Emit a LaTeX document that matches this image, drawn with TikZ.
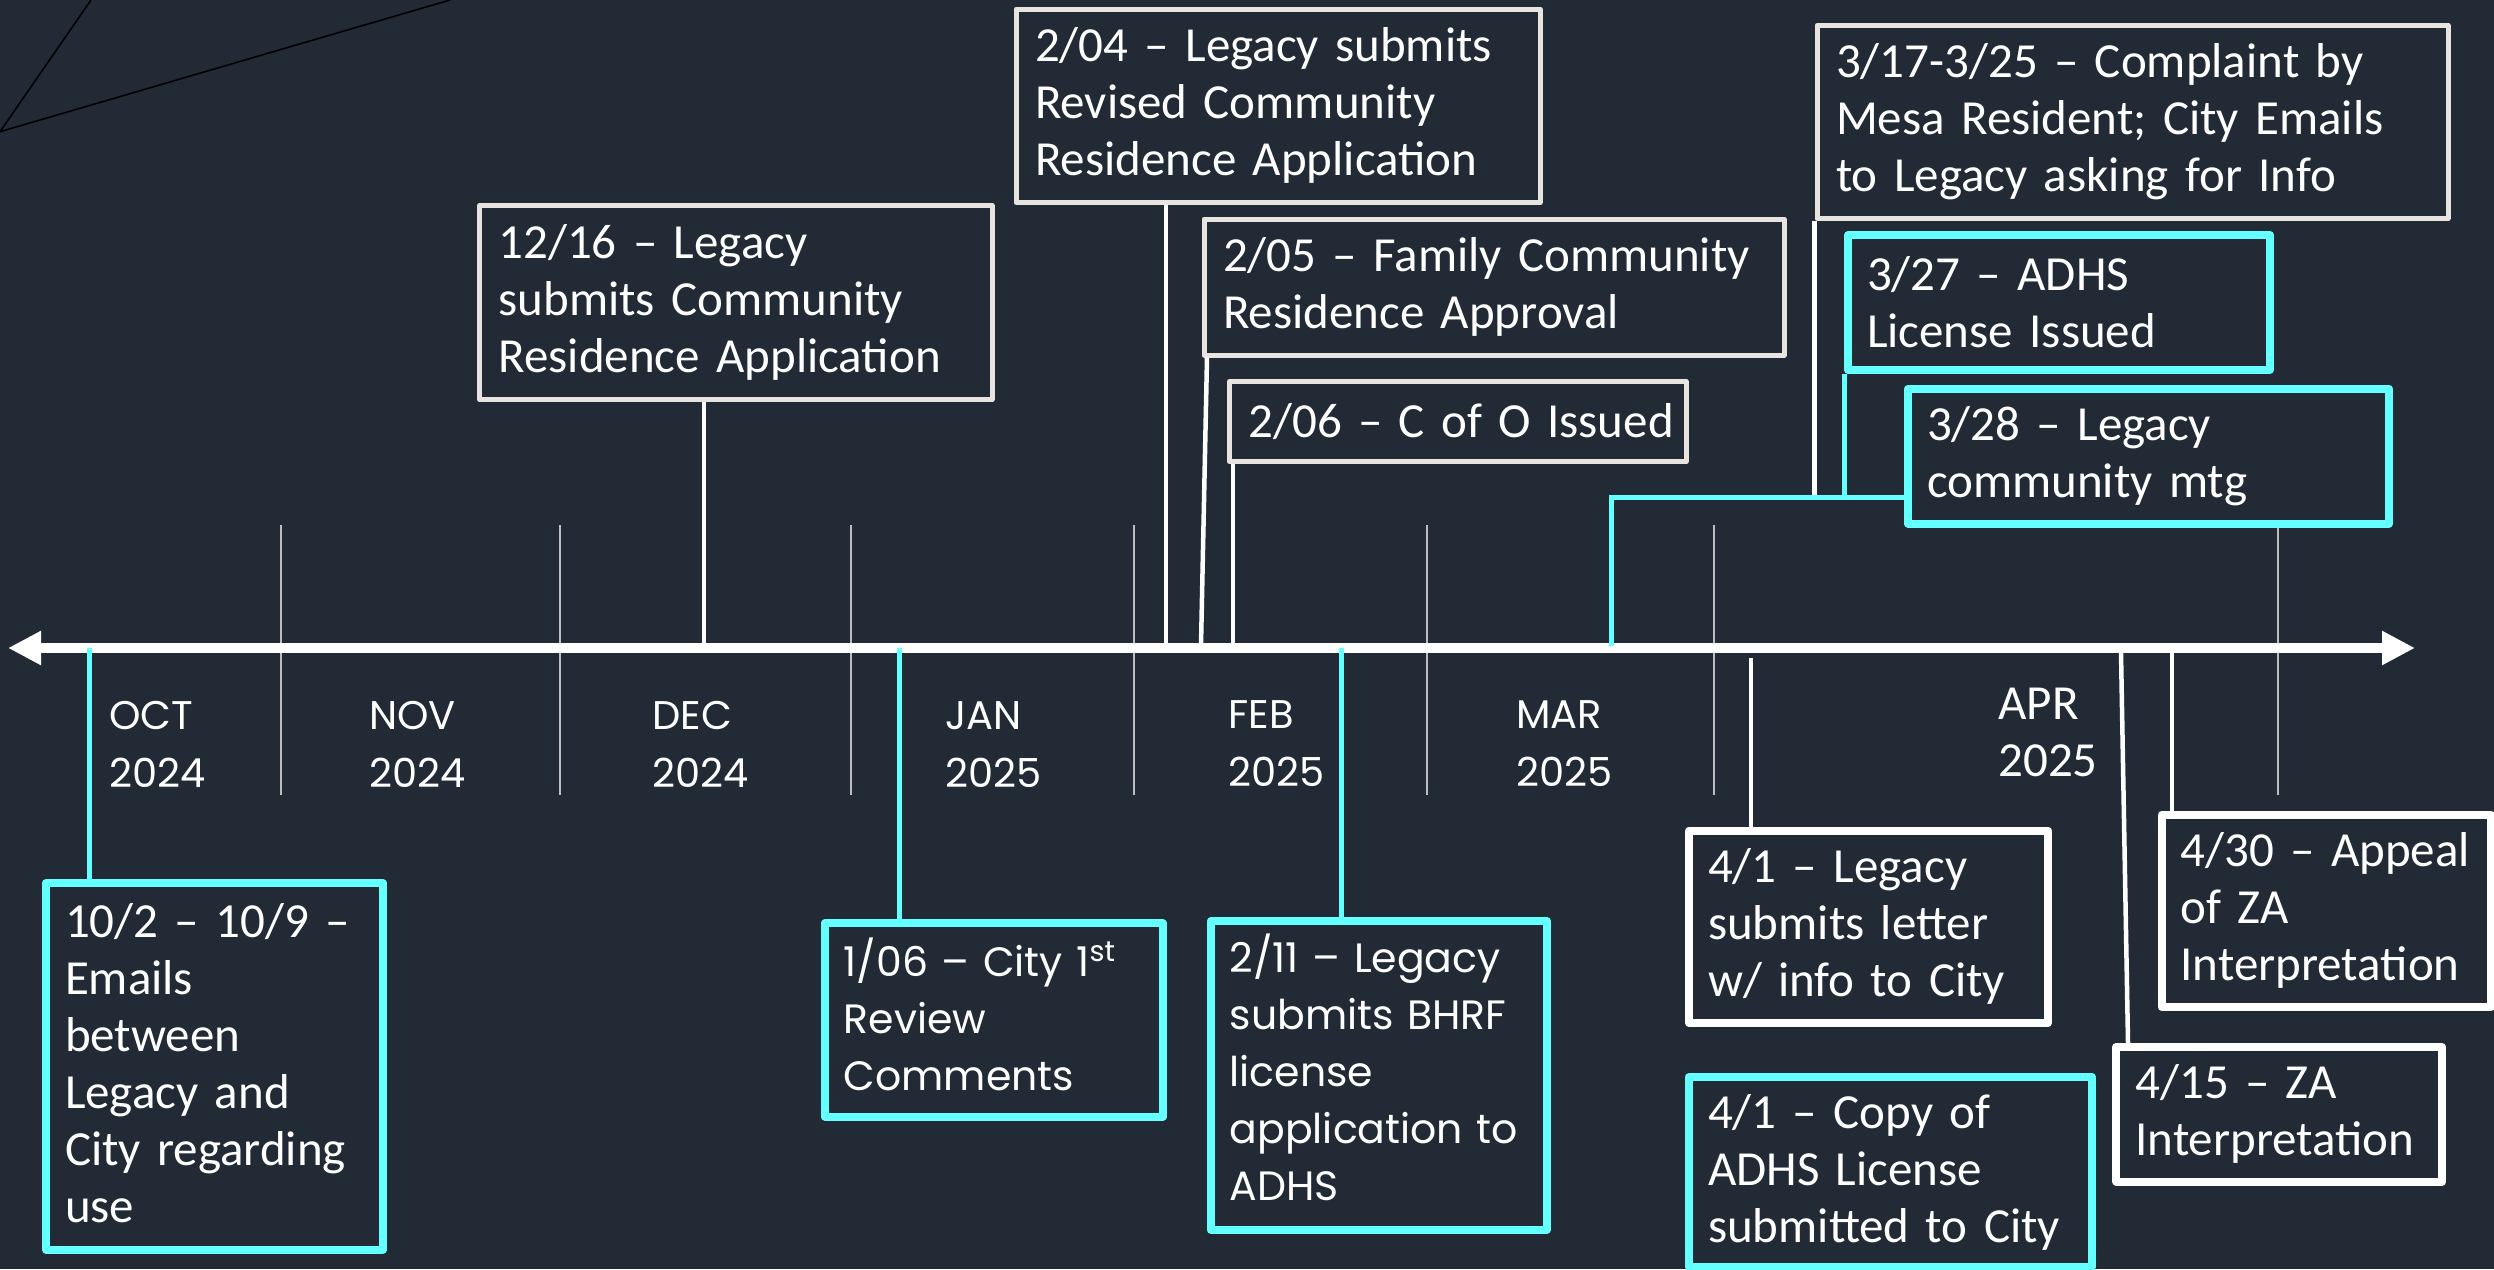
\documentclass[tikz,border=0pt]{standalone}
\usepackage{fontspec}
\setmainfont{Carlito}
\newfontfamily\popfont{Poppins}
\usetikzlibrary{arrows.meta,calc}
\definecolor{bg}{RGB}{34,42,53}
\definecolor{cyanc}{RGB}{100,255,255}
\definecolor{offwhite}{RGB}{232,229,224}
\definecolor{tickgray}{RGB}{190,190,190}
\tikzset{
  boxbase/.style={rectangle, anchor=north west, inner xsep=9.5pt, inner ysep=0pt,
    align=left, text=white, line join=round,
    font=\fontsize{24.5}{28.5}\selectfont,
    execute at begin node={\hyphenpenalty=10000 \exhyphenpenalty=10000}},
  popbox/.style={font=\popfont\fontsize{20.5}{28.5}\selectfont},
  wbox/.style={boxbase, draw=offwhite, line width=2.5pt},
  wbbox/.style={boxbase, draw=white, line width=4pt},
  cbox/.style={boxbase, draw=cyanc, line width=4pt},
  wline/.style={draw=white, line width=2.25pt},
  cline/.style={draw=cyanc, line width=2.5pt},
  monthtick/.style={draw=tickgray, line width=0.75pt},
  monthlbl/.style={anchor=north west, inner sep=0pt, align=left, text=white,
    font=\popfont\fontsize{20}{29}\selectfont},
  aprlbl/.style={anchor=north west, inner sep=0pt, align=left, text=white,
    font=\fontsize{24.5}{28.5}\selectfont},
}
\begin{document}
\begin{tikzpicture}[x=0.5pt,y=-0.5pt]
\useasboundingbox (0,0) rectangle (2494,1269);
\fill[bg] (0,0) rectangle (2494,1269);
% decorative black lines, top left
\draw[black, line width=0.75pt] (91,0) -- (0,131.7) -- (450,0);

% month ticks
\foreach \x in {281,560,851,1134,1427,1714,2278}
  \draw[monthtick] (\x,525) -- (\x,795);

% axis
\coordinate (axL) at (8,648);
\coordinate (axR) at (2415,648);
\draw[white, line width=5pt, -{Triangle[length=16.5pt,width=16pt]}] ($(axL)!0.5!(axR)$) -- (axR);
\draw[white, line width=5pt, -{Triangle[length=16.5pt,width=16pt]}] ($(axL)!0.5!(axR)$) -- (axL);

% month labels
\node[monthlbl] (mOct) at (109,701) {OCT\\2024};
\node[monthlbl] (mNov) at (369,701) {NOV\\2024};
\node[monthlbl] (mDec) at (652,701) {DEC\\2024};
\node[monthlbl] (mJan) at (945,701) {JAN\\2025};
\node[monthlbl] (mFeb) at (1228,700) {FEB\\2025};
\node[monthlbl] (mMar) at (1516,700) {MAR\\2025};
\node[aprlbl] (mApr) at (1998,688) {APR\\2025};

% boxes above the axis
\node[wbox, minimum width=256.25pt, minimum height=97pt, text width=237.25pt] (b1216) at (477,203)
  {12/16 – Legacy\\submits Community\\Residence Application};
\node[wbox, minimum width=262pt, minimum height=96.75pt, text width=243pt] (b0204) at (1013.5,6.5)
  {2/04 – Legacy submits\\Revised Community\\Residence Application};
\node[wbox, minimum width=290pt, minimum height=68pt, text width=271pt] (b0205) at (1201.5,216.5)
  {2/05 – Family Community\\Residence Approval};
\node[wbox, minimum width=228.25pt, minimum height=40pt, text width=209.25pt] (b0206) at (1227,379)
  {2/06~–~C~of~O~Issued};
\node[wbox, minimum width=315.5pt, minimum height=96.5pt, text width=296.5pt] (b0317) at (1814.5,23)
  {3/17-3/25 – Complaint by\\Mesa Resident; City Emails\\to Legacy asking for Info};
\node[cbox, minimum width=211pt, minimum height=67.5pt, text width=192pt] (b0327) at (1844,231)
  {3/27 – ADHS\\License Issued};
\node[cbox, minimum width=240.5pt, minimum height=67.5pt, text width=221.5pt] (b0328) at (1904,384.5)
  {3/28 – Legacy\\community mtg};

% boxes below the axis
\node[cbox, minimum width=168.5pt, minimum height=183.25pt, text width=149.5pt, text depth=145.5pt] (b1002) at (42,879)
  {10/2 – 10/9 –\\Emails\\between\\Legacy and\\City regarding\\use};
\node[cbox, popbox, minimum width=169pt, minimum height=96.85pt, text width=150pt, text depth=63pt] (b0106) at (820.7,919)
  {1/06 – City 1\textsuperscript{st}\\Review\\Comments};
\node[cbox, popbox, minimum width=168pt, minimum height=154.35pt, text width=149pt, text depth=122pt] (b0211) at (1206.7,917)
  {2/11 – Legacy\\submits BHRF\\license\\application to\\ADHS};
\node[wbbox, minimum width=179.5pt, minimum height=96.25pt, text width=160.5pt] (b0401a) at (1685,826.5)
  {4/1 – Legacy\\submits letter\\w/ info to City};
\node[cbox, minimum width=201.5pt, minimum height=95pt, text width=182.5pt] (b0401b) at (1685,1073)
  {4/1 – Copy of\\ADHS License\\submitted to City};
\node[wbbox, minimum width=162.8pt, minimum height=67.25pt, text width=143.8pt] (b0415) at (2112.4,1043)
  {4/15 – ZA\\Interpretation};
\node[wbbox, minimum width=164.7pt, minimum height=96.25pt, text width=145.7pt] (b0430) at (2157.6,810.5)
  {4/30 – Appeal\\of ZA\\Interpretation};

% points on the axis
\coordinate (t1002) at (89,648);
\coordinate (t1216) at (704,645);
\coordinate (t0106) at (899,648);
\coordinate (t0204) at (1166,645);
\coordinate (t0205) at (1201,645);
\coordinate (t0206) at (1233,645);
\coordinate (t0211) at (1341,648);
\coordinate (t0328) at (1611,646);
\coordinate (jrow) at (1611,497);
\coordinate (t0401) at (1751,658);
\coordinate (t0415) at (2121,653);
\coordinate (t0430) at (2172,653);

% connectors
\draw[cline] (t1002) -- (t1002 |- b1002.north);
\draw[wline] (t1216 |- b1216.south) -- (t1216);
\draw[cline] (t0106) -- (t0106 |- b0106.north);
\draw[wline] (t0204 |- b0204.south) -- (t0204);
\draw[wline] ($(b0205.south west)+(5.5,0)$) -- (t0205);
\draw[wline] (t0206 |- b0206.south) -- (t0206);
\draw[cline] (t0211) -- (t0211 |- b0211.north);
\draw[wline] (b0317.south west) -- (b0317.south west |- jrow);
\draw[cline] (b0327.south west) -- (b0327.south west |- jrow);
\draw[cline] (b0328.west |- jrow) -- (jrow) -- (t0328);
\draw[wline] (t0401) -- (t0401 |- b0401a.north);
\draw[cline] ($(b0401a.south west)+(63,0)$) -- ($(b0401a.south west)+(63,0)$ |- b0401b.north);
\draw[wline] (t0415) -- ($(b0415.north west)+(15.6,0)$);
\draw[wline] (t0430) -- (t0430 |- b0430.north);
\end{tikzpicture}
\end{document}
